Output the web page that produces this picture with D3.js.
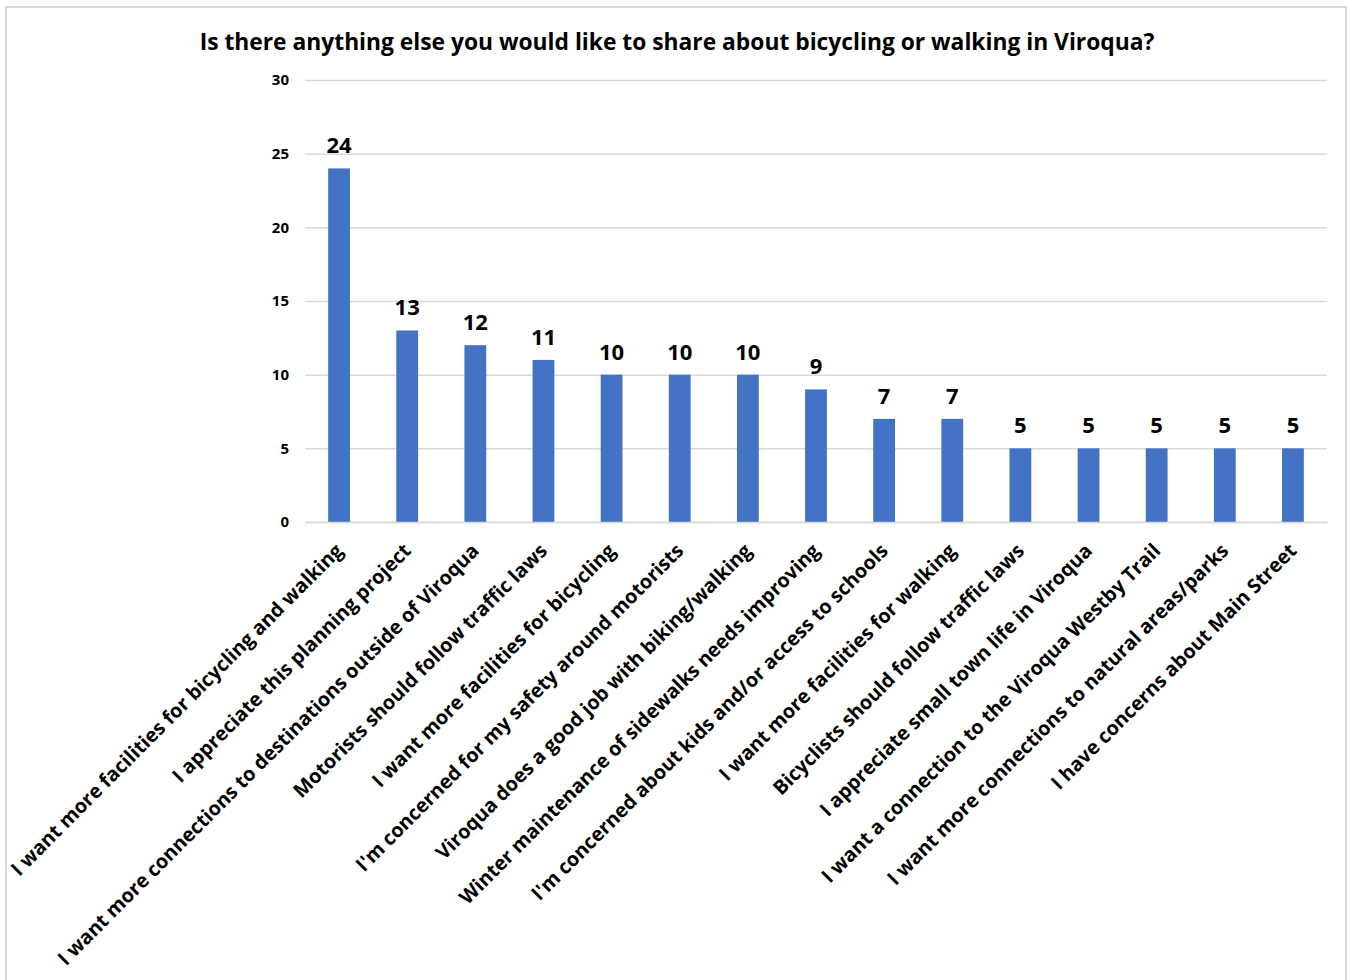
<!DOCTYPE html>
<html>
<head>
<meta charset="utf-8">
<script src="https://cdn.jsdelivr.net/npm/d3@7"></script>
<style>
  html, body { margin: 0; padding: 0; background: #fff; }
  svg { display: block; }
  text { font-family: "Open Sans", sans-serif; font-weight: 700; fill: #000; }
</style>
</head>
<body>
<svg id="chart" width="1350" height="980"></svg>
<script>
// Survey responses: open-ended comments grouped by theme
const title = "Is there anything else you would like to share about bicycling or walking in Viroqua?";
const categories = [
  "I want more facilities for bicycling and walking",
  "I appreciate this planning project",
  "I want more connections to destinations outside of Viroqua",
  "Motorists should follow traffic laws",
  "I want more facilities for bicycling",
  "I'm concerned for my safety around motorists",
  "Viroqua does a good job with biking/walking",
  "Winter maintenance of sidewalks needs improving",
  "I'm concerned about kids and/or access to schools",
  "I want more facilities for walking",
  "Bicyclists should follow traffic laws",
  "I appreciate small town life in Viroqua",
  "I want a connection to the Viroqua Westby Trail",
  "I want more connections to natural areas/parks",
  "I have concerns about Main Street"
];
const counts = [24, 13, 12, 11, 10, 10, 10, 9, 7, 7, 5, 5, 5, 5, 5];
const yTicks = [0, 5, 10, 15, 20, 25, 30];

const FONT = "'Open Sans', sans-serif";
const svg = d3.select("#chart");

// chart frame
svg.append("rect")
  .attr("x", 6).attr("y", 7)
  .attr("width", 1340).attr("height", 985)
  .attr("fill", "#fff")
  .attr("stroke", "#d9d9d9").attr("stroke-width", 2);

const plot = { left: 305, right: 1327, top: 80, bottom: 522 };

const x = d3.scaleBand()
  .domain(categories)
  .range([plot.left, plot.right])
  .paddingInner(0.68)
  .paddingOuter(0.34);

const y = d3.scaleLinear()
  .domain([0, 30])
  .range([plot.bottom, plot.top]);

// horizontal gridlines with tick labels
const yAxis = d3.axisLeft(y)
  .tickValues(yTicks)
  .tickSize(-(plot.right - plot.left))
  .tickPadding(16)
  .tickFormat(d3.format("d"));

const gy = svg.append("g")
  .attr("transform", `translate(${plot.left},0)`)
  .call(yAxis);
gy.select(".domain").remove();
gy.selectAll(".tick line").attr("stroke", "#d9d9d9").attr("stroke-width", 1.5);
gy.selectAll(".tick text")
  .attr("font-size", 15)
  .style("font-family", FONT)
  .style("font-weight", 700)
  .attr("fill", "#000");

// bars
svg.append("g").selectAll("rect")
  .data(categories)
  .join("rect")
  .attr("x", d => x(d))
  .attr("y", (d, i) => y(counts[i]))
  .attr("width", x.bandwidth())
  .attr("height", (d, i) => y(0) - y(counts[i]))
  .attr("fill", "#4472c4");

// value labels above bars
svg.append("g").selectAll("text")
  .data(categories)
  .join("text")
  .attr("x", d => x(d) + x.bandwidth() / 2)
  .attr("y", (d, i) => y(counts[i]) - 15)
  .attr("text-anchor", "middle")
  .attr("font-size", 22)
  .text((d, i) => counts[i]);

// rotated category labels
const xAxis = d3.axisBottom(x).tickSize(0).tickPadding(0);
const gx = svg.append("g")
  .attr("transform", `translate(0,${plot.bottom})`)
  .call(xAxis);
gx.select(".domain").attr("stroke", "#d9d9d9").attr("stroke-width", 1.5);
gx.selectAll(".tick text")
  .attr("font-size", 19.8)
  .style("font-family", FONT)
  .style("font-weight", 700)
  .attr("fill", "#000")
  .attr("text-anchor", "end")
  .attr("dy", 0)
  .attr("transform", "translate(5,30) rotate(-45)");

// title
svg.append("text")
  .attr("x", 677)
  .attr("y", 50)
  .attr("text-anchor", "middle")
  .attr("font-size", 22.8)
  .text(title);
</script>
</body>
</html>
